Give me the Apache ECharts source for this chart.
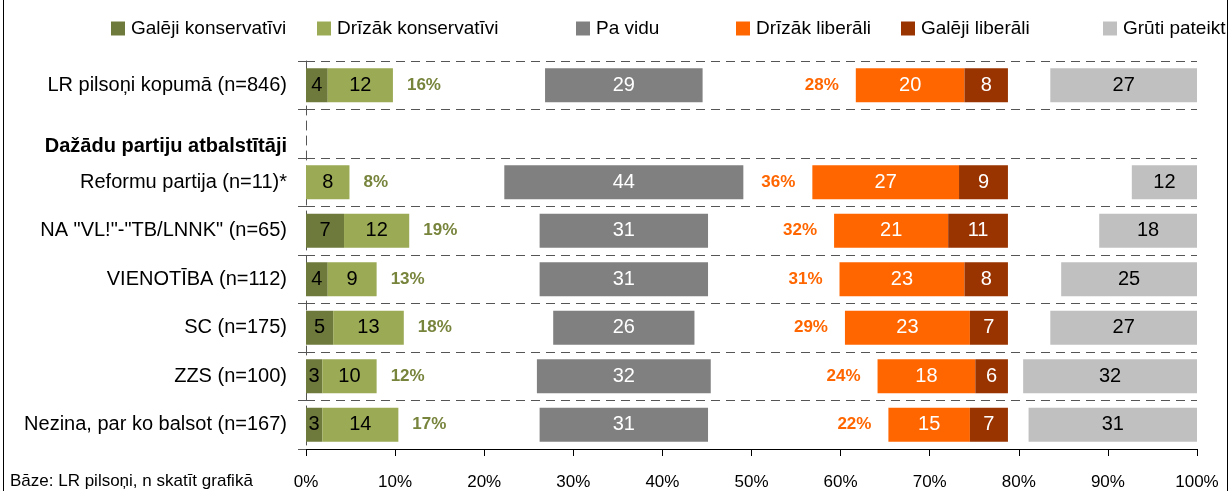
<!DOCTYPE html>
<html>
<head>
<meta charset="utf-8">
<script src="https://cdn.jsdelivr.net/npm/echarts@6/dist/echarts.min.js"></script>
<style>
  html, body { margin: 0; padding: 0; background: #fff; }
  #chart { width: 1231px; height: 491px; }
</style>
</head>
<body>
<div id="chart"></div>
<script>
// dati
const kategorijas = [
  'LR pilsoņi kopumā (n=846)',
  'Dažādu partiju atbalstītāji',
  'Reformu partija (n=11)*',
  'NA "VL!"-"TB/LNNK" (n=65)',
  'VIENOTĪBA (n=112)',
  'SC (n=175)',
  'ZZS (n=100)',
  'Nezina, par ko balsot (n=167)'
];
const galejiKons = [4, null, 0, 7, 4, 5, 3, 3];
const drizakKons = [12, null, 8, 12, 9, 13, 10, 14];
const paVidu = [29, null, 44, 31, 31, 26, 32, 31];
const drizakLib = [20, null, 27, 21, 23, 23, 18, 15];
const galejiLib = [8, null, 9, 11, 8, 7, 6, 7];
const grutiPateikt = [27, null, 12, 18, 25, 27, 32, 31];
const konsKopa = [16, null, 8, 19, 13, 18, 12, 17];
const libKopa = [28, null, 36, 32, 31, 29, 24, 22];

// izkārtojums: "Pa vidu" centrēts, liberāļi un "Grūti pateikt" izlīdzināti pa labi
const SKALA = 164;
const VIDUS = 58.5;
const LIB_BEIGAS = 129.2;

const fonts = "'Liberation Sans', Arial, sans-serif";

let atstarpe1 = kategorijas.map((k, i) =>
  paVidu[i] == null ? null : VIDUS - galejiKons[i] - drizakKons[i] - paVidu[i] / 2);
let atstarpe2 = kategorijas.map((k, i) =>
  paVidu[i] == null ? null : LIB_BEIGAS - drizakLib[i] - galejiLib[i] - VIDUS - paVidu[i] / 2);
let atstarpe3 = kategorijas.map((k, i) =>
  paVidu[i] == null ? null : SKALA - grutiPateikt[i] - LIB_BEIGAS);

function stabins(nosaukums, dati, krasa, tekstaKrasa) {
  return {
    name: nosaukums,
    type: 'bar',
    stack: 'kopa',
    barWidth: 34,
    data: dati,
    itemStyle: { color: krasa },
    label: {
      show: true,
      position: 'inside',
      color: tekstaKrasa,
      fontSize: 20,
      fontFamily: fonts,
      formatter: p => (p.value ? p.value : '')
    }
  };
}

function atstarpe(dati, etiketes) {
  return {
    name: '',
    type: 'bar',
    stack: 'kopa',
    barWidth: 34,
    data: dati,
    silent: true,
    itemStyle: { color: 'transparent' },
    label: etiketes
  };
}

let myChart = echarts.init(document.getElementById('chart'));

const legendaX = [106, 312, 571, 731, 896, 1098];
const legendaNosaukumi = ['Galēji konservatīvi', 'Drīzāk konservatīvi', 'Pa vidu',
  'Drīzāk liberāli', 'Galēji liberāli', 'Grūti pateikt'];

let option = {
  animation: false,
  textStyle: { fontFamily: fonts },
  legend: legendaNosaukumi.map((n, i) => ({
    data: [n],
    left: legendaX[i],
    top: 14,
    icon: 'rect',
    itemWidth: 14,
    itemHeight: 14,
    itemGap: 0,
    selectedMode: false,
    textStyle: { fontSize: 19, color: '#000', fontFamily: fonts, padding: [0, 0, 0, 1] }
  })),
  grid: { left: 306, right: 34, top: 61, bottom: 42 },
  xAxis: [
    { type: 'value', min: 0, max: SKALA, show: false },
    {
      type: 'value',
      min: 0,
      max: 100,
      interval: 10,
      position: 'bottom',
      axisLine: { show: true, lineStyle: { color: '#000', width: 1 } },
      axisTick: { show: true, length: 7, lineStyle: { color: '#000' } },
      splitLine: { show: false },
      axisLabel: { fontSize: 17, color: '#000', margin: 25, formatter: v => v + '%' }
    }
  ],
  yAxis: {
    type: 'category',
    inverse: true,
    data: kategorijas,
    axisLine: { lineStyle: { color: '#555', type: [9, 6] } },
    axisTick: { show: true, length: 8, lineStyle: { color: '#555' } },
    splitLine: { show: true, lineStyle: { color: '#555', type: [9, 6] } },
    axisLabel: {
      fontSize: 20,
      color: '#000',
      margin: 19,
      formatter: (v, i) => (i === 1 ? '{b|' + v + '}' : v),
      rich: { b: { fontWeight: 'bold', fontSize: 20, color: '#000', padding: [26, 0, 0, 0] } }
    }
  },
  graphic: [
    { type: 'line', shape: { x1: 3.5, y1: 0, x2: 3.5, y2: 491 }, style: { stroke: '#000', lineWidth: 1 } },
    { type: 'line', shape: { x1: 1227.5, y1: 0, x2: 1227.5, y2: 491 }, style: { stroke: '#000', lineWidth: 1 } },
    { type: 'text', left: 10, top: 473, style: { text: 'Bāze: LR pilsoņi, n skatīt grafikā', fontSize: 17, fill: '#000', font: '17px ' + fonts } }
  ],
  series: [
    stabins('Galēji konservatīvi', galejiKons, '#6e7a3b', '#000'),
    stabins('Drīzāk konservatīvi', drizakKons, '#9aaa55', '#000'),
    atstarpe(atstarpe1, {
      show: true, position: 'insideLeft', distance: 14,
      color: '#77843c', fontWeight: 'bold', fontSize: 17, fontFamily: fonts,
      formatter: p => (konsKopa[p.dataIndex] == null ? '' : konsKopa[p.dataIndex] + '%')
    }),
    stabins('Pa vidu', paVidu, '#808080', '#fff'),
    atstarpe(atstarpe2, {
      show: true, position: 'insideRight', distance: 17,
      color: '#ff6600', fontWeight: 'bold', fontSize: 17, fontFamily: fonts,
      formatter: p => (libKopa[p.dataIndex] == null ? '' : libKopa[p.dataIndex] + '%')
    }),
    stabins('Drīzāk liberāli', drizakLib, '#ff6600', '#fff'),
    stabins('Galēji liberāli', galejiLib, '#993300', '#fff'),
    atstarpe(atstarpe3, { show: false }),
    stabins('Grūti pateikt', grutiPateikt, '#c0c0c0', '#000')
  ]
};

myChart.setOption(option);
</script>
</body>
</html>
